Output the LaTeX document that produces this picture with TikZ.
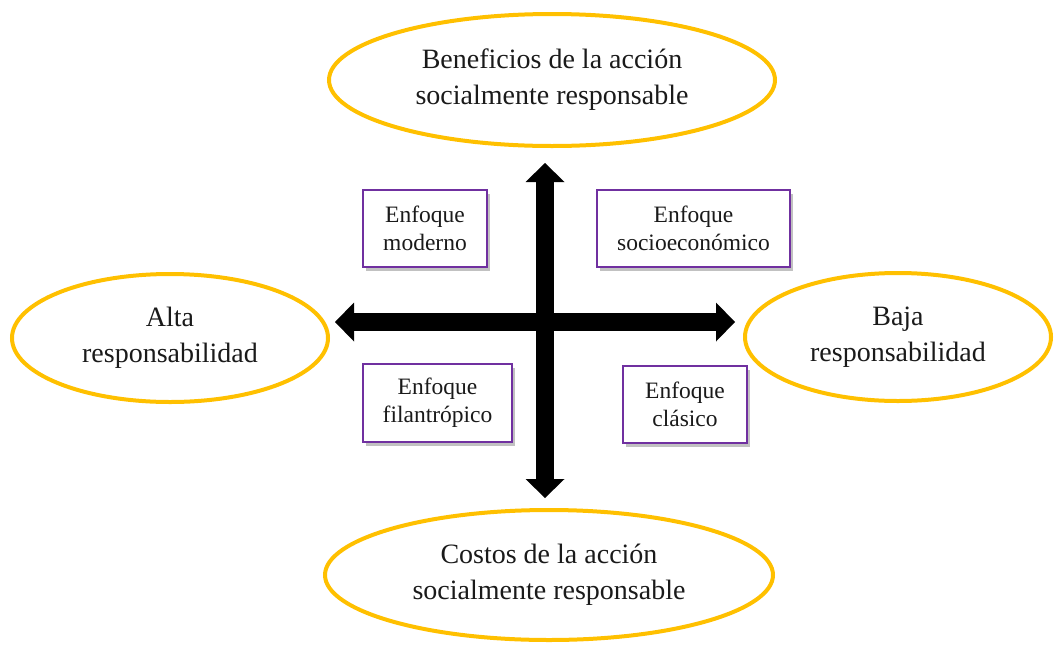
\documentclass[tikz,border=0pt]{standalone}
\usepackage{fontspec}
\setmainfont{Liberation Serif}
\usetikzlibrary{arrows.meta,shapes.geometric,shadows}
\definecolor{ringorange}{HTML}{FFC000}
\definecolor{boxpurple}{HTML}{7030A0}
\definecolor{txtgray}{HTML}{1A1A1A}
\begin{document}
\begin{tikzpicture}[x=1pt,y=-1pt,
  ring/.style={ellipse, draw=ringorange, line width=4pt, inner sep=0pt, align=center,
    text=txtgray, font=\fontsize{28}{36}\selectfont},
  quad/.style={draw=boxpurple, line width=2pt, fill=white, inner sep=0pt, align=center,
    text=txtgray, font=\fontsize{23.5}{28}\selectfont,
    drop shadow={shadow xshift=3pt, shadow yshift=-4pt, opacity=0.35, fill=black!70}},
  bigarrow/.style={line width=18pt,
    {Triangle[length=19pt,width=39pt,line width=0pt 0]}-{Triangle[length=19pt,width=39pt,line width=0pt 0]}}
]
\useasboundingbox (0,0) rectangle (1055,646);
% ellipses
\node[ring, minimum width=446pt, minimum height=132pt] (top) at (552,80) {Beneficios de la acción\\socialmente responsable};
\node[ring, minimum width=448pt, minimum height=130pt] (bot) at (549,575) {Costos de la acción\\socialmente responsable};
\node[ring, minimum width=316pt, minimum height=128pt] (lft) at (170,338) {Alta\\responsabilidad};
\node[ring, minimum width=306pt, minimum height=128pt] (rgt) at (898,337) {Baja\\responsabilidad};
% arrow ends
\coordinate (vT) at (545,163);
\coordinate (vB) at (545,498);
\coordinate (hL) at (335,322);
\coordinate (hR) at (735,322);
\draw[bigarrow] (hL) -- (hR);
\draw[bigarrow] (vB) -- (vT);
% boxes
\node[quad, minimum width=124pt, minimum height=77pt] (mod) at (425,228.5) {Enfoque\\moderno};
\node[quad, minimum width=193pt, minimum height=77pt] (soc) at (693.5,228.5) {Enfoque\\socioeconómico};
\node[quad, minimum width=149pt, minimum height=78pt] (fil) at (437.5,403) {Enfoque\\filantrópico};
\node[quad, minimum width=124pt, minimum height=77pt] (cla) at (685,404.5) {Enfoque\\clásico};
\end{tikzpicture}
\end{document}
